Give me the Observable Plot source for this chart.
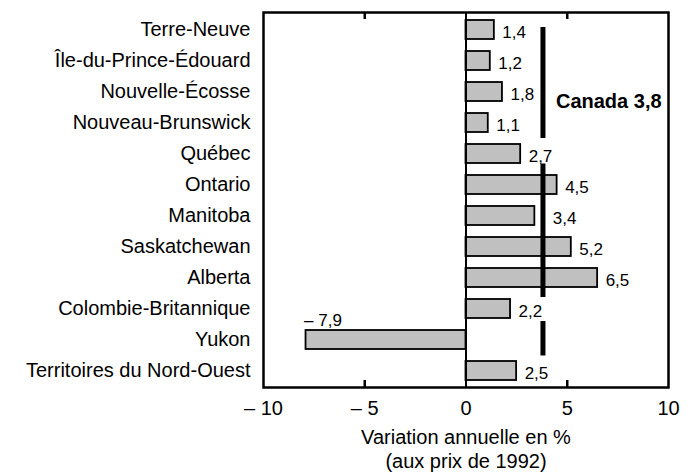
<!DOCTYPE html>
<html><head><meta charset="utf-8">
<script src="https://cdn.jsdelivr.net/npm/d3@7"></script>
<script src="https://cdn.jsdelivr.net/npm/@observablehq/plot@0.6"></script>
<style>body{margin:0;background:#fff}</style>
</head><body><div id="chart"></div>
<script>
const provinces = ["Terre-Neuve","Île-du-Prince-Édouard","Nouvelle-Écosse","Nouveau-Brunswick","Québec","Ontario","Manitoba","Saskatchewan","Alberta","Colombie-Britannique","Yukon","Territoires du Nord-Ouest"];
const values = [1.4, 1.2, 1.8, 1.1, 2.7, 4.5, 3.4, 5.2, 6.5, 2.2, -7.9, 2.5];
const xTicks = [-10, -5, 0, 5, 10];
const innerTicks = [-5, 5];
const canadaValue = 3.8;
const canadaLabel = "Canada 3,8";
const canadaLabelRow = "Nouvelle-Écosse";
const canadaSegments = [["Terre-Neuve","Nouveau-Brunswick"],["Ontario","Alberta"],["Yukon","Yukon"]];
const axisTitle = "Variation annuelle en %\n(aux prix de 1992)";

const fmt = v => (v < 0 ? "– " : "") + String(Math.abs(v)).replace(".", ",");
const data = provinces.map((name, i) => ({name, value: values[i]}));
const segs = canadaSegments.map(([from, to]) => ({from, to, x: canadaValue}));

const W = 692, H = 472, mt = 12, mb = 85, ml = 263, mr = 24;
const innerH = H - mt - mb;

const chart = Plot.plot({
  width: W, height: H,
  marginTop: mt, marginBottom: mb, marginLeft: ml, marginRight: mr,
  style: {fontFamily: "'Liberation Sans', Arial, sans-serif", fontSize: "20px", color: "#000", background: "#fff"},
  x: {domain: [-10, 10], label: null},
  y: {domain: provinces, paddingInner: 0.4, paddingOuter: 0.2, label: null},
  marks: [
    Plot.barX(data, {x: "value", y: "name", fill: "#c0c0c0", stroke: "#000", strokeWidth: 1.8}),
    Plot.ruleX([0], {stroke: "#000", strokeWidth: 2}),
    Plot.ruleX([segs[0]], {x: "x", y1: "from", y2: "to", stroke: "#000", strokeWidth: 5, insetTop: 7, insetBottom: -6}),
    Plot.ruleX([segs[1]], {x: "x", y1: "from", y2: "to", stroke: "#000", strokeWidth: 5, insetTop: -11.5, insetBottom: -10}),
    Plot.ruleX([segs[2]], {x: "x", y1: "from", y2: "to", stroke: "#000", strokeWidth: 5, insetTop: -9, insetBottom: -6.5}),
    Plot.ruleX(innerTicks, {stroke: "#000", strokeWidth: 2.5, insetBottom: innerH - 7}),
    Plot.ruleX(innerTicks, {stroke: "#000", strokeWidth: 2.5, insetTop: innerH - 7}),
    Plot.frame({stroke: "#000", strokeWidth: 2.5}),
    Plot.text(data.filter(d => d.value >= 0 && d.name !== "Manitoba"), {x: "value", y: "name", text: d => fmt(d.value), dx: 8, dy: 3, textAnchor: "start", fontSize: 17, fill: "#000"}),
    Plot.text(data.filter(d => d.name === "Manitoba"), {x: "value", y: "name", text: d => fmt(d.value), dx: 18, dy: 3, textAnchor: "start", fontSize: 17, fill: "#000"}),
    Plot.text(data.filter(d => d.value < 0), {x: "value", y: "name", text: d => fmt(d.value), dx: -2, dy: -19, textAnchor: "start", fontSize: 17, fill: "#000"}),
    Plot.text([canadaLabel], {x: () => canadaValue, y: () => canadaLabelRow, text: d => d, dx: 13, dy: 10, textAnchor: "start", fontSize: 20, fontWeight: "bold", fill: "#000"}),
    Plot.axisX({anchor: "bottom", ticks: xTicks, tickFormat: fmt, tickSize: 0, tickPadding: 13, label: null, fontSize: 20}),
    Plot.axisY({anchor: "left", tickSize: 0, tickPadding: 13, label: null, fontSize: 20}),
    Plot.text([axisTitle], {frameAnchor: "bottom", text: d => d, lineAnchor: "top", dy: 39, lineHeight: 1.2, fontSize: 20, fill: "#000"})
  ]
});
document.getElementById("chart").appendChild(chart);
</script>
</body></html>
